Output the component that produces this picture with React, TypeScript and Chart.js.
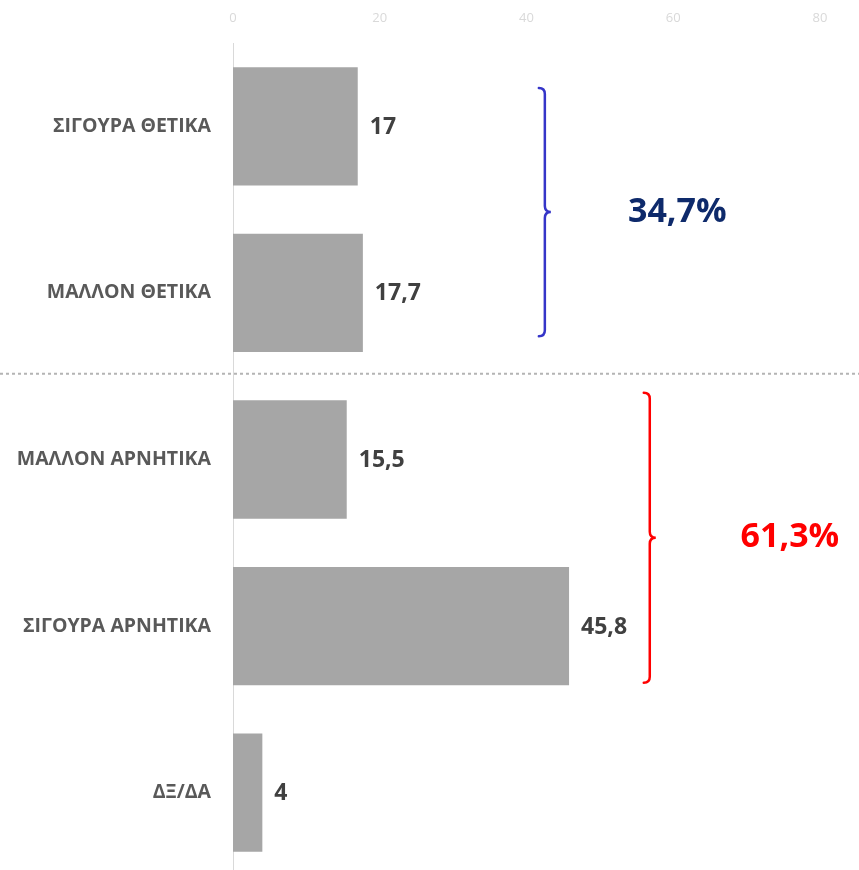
import React, { useEffect, useRef } from "react";
import { Chart, registerables } from "chart.js";

Chart.register(...registerables);

const categories = ["ΣΙΓΟΥΡΑ ΘΕΤΙΚΑ", "ΜΑΛΛΟΝ ΘΕΤΙΚΑ", "ΜΑΛΛΟΝ ΑΡΝΗΤΙΚΑ", "ΣΙΓΟΥΡΑ ΑΡΝΗΤΙΚΑ", "ΔΞ/ΔΑ"];
const values = [17, 17.7, 15.5, 45.8, 4];
const valueLabels = ["17", "17,7", "15,5", "45,8", "4"];
const xTicks = [0, 20, 40, 60, 80];
const groupLabels = ["34,7%", "61,3%"];
const groupFirst = [0, 2];
const groupLast = [1, 3];
const groupBraceValue = [42.5, 56.8];
const groupColors = ["#3535c8", "#ff0000"];
const groupTextColors = ["#0e2a6b", "#ff0000"];
const groupTextValue = [60.55, 75.9];

const FONT = "'Open Sans', 'Noto Sans', sans-serif";

const overlay = {
  id: "overlay",
  afterDatasetsDraw(chart: any) {
    const ctx = chart.ctx;
    const xs = chart.scales.x;
    const ys = chart.scales.y;
    const meta = chart.getDatasetMeta(0);
    ctx.save();
    ctx.font = `bold 23px ${FONT}`;
    ctx.fillStyle = "#404040";
    ctx.textAlign = "left";
    ctx.textBaseline = "middle";
    meta.data.forEach((bar: any, i: number) => {
      ctx.fillText(valueLabels[i], bar.x + 12, bar.y + 1);
    });
    const step = ys.getPixelForValue(1) - ys.getPixelForValue(0);
    const sepY = ys.getPixelForValue(1) + step * 0.485;
    ctx.strokeStyle = "#b4b4b4";
    ctx.lineWidth = 2;
    ctx.setLineDash([3, 3]);
    ctx.beginPath();
    ctx.moveTo(0, sepY);
    ctx.lineTo(chart.width, sepY);
    ctx.stroke();
    ctx.setLineDash([]);
    groupLabels.forEach((label, g) => {
      const top = ys.getPixelForValue(groupFirst[g]) - step * (g === 0 ? 0.23 : 0.4);
      const bot = ys.getPixelForValue(groupLast[g]) + step * (g === 0 ? 0.26 : 0.34);
      const mid = (top + bot) / 2;
      const x = xs.getPixelForValue(groupBraceValue[g]);
      const r = 6;
      ctx.strokeStyle = groupColors[g];
      ctx.lineWidth = 2.5;
      ctx.lineCap = "round";
      ctx.beginPath();
      ctx.moveTo(x - r, top);
      ctx.quadraticCurveTo(x, top, x, top + r);
      ctx.lineTo(x, mid - r);
      ctx.quadraticCurveTo(x, mid, x + r, mid);
      ctx.quadraticCurveTo(x, mid, x, mid + r);
      ctx.lineTo(x, bot - r);
      ctx.quadraticCurveTo(x, bot, x - r, bot);
      ctx.stroke();
      ctx.font = `bold 34px ${FONT}`;
      ctx.fillStyle = groupTextColors[g];
      ctx.textAlign = "center";
      ctx.textBaseline = "middle";
      ctx.fillText(label, xs.getPixelForValue(groupTextValue[g]), mid);
    });
    ctx.restore();
  },
};

export default function App() {
  const ref = useRef<HTMLCanvasElement>(null);
  useEffect(() => {
    document.body.style.margin = "0";
    const chart = new Chart(ref.current!, {
      type: "bar",
      data: {
        labels: categories,
        datasets: [
          {
            data: values,
            backgroundColor: "#a6a6a6",
            borderWidth: 0,
            categoryPercentage: 1,
            barPercentage: 0.71,
          },
        ],
      },
      options: {
        indexAxis: "y",
        animation: false,
        responsive: true,
        maintainAspectRatio: false,
        layout: { padding: { left: 0, right: 39, top: 0, bottom: 0 } },
        plugins: { legend: { display: false }, tooltip: { enabled: false } },
        scales: {
          x: {
            position: "top",
            min: 0,
            max: 80,
            afterBuildTicks: (s: any) => {
              s.ticks = xTicks.map((v) => ({ value: v }));
            },
            afterFit: (s: any) => {
              s.height = 43;
              s.paddingTop = 0;
              s.paddingBottom = 0;
            },
            grid: { display: false, drawTicks: false },
            border: { display: false },
            ticks: {
              color: "#d9d9d9",
              padding: 17,
              font: { family: FONT, size: 13 },
            },
          },
          y: {
            afterFit: (s: any) => {
              s.width = 233;
              s.paddingTop = 0;
              s.paddingBottom = 0;
            },
            grid: { display: false, drawTicks: false },
            border: { display: true, color: "#d9d9d9", width: 1 },
            ticks: {
              color: "#595959",
              padding: 22,
              font: { family: FONT, size: 19.5, weight: "bold" },
            },
          },
        },
      },
      plugins: [overlay],
    });
    return () => chart.destroy();
  }, []);
  return (
    <div style={{ width: 859, height: 870, overflow: "hidden", position: "relative" }}>
      <div style={{ position: "absolute", left: 0, top: 0, width: 859, height: 876 }}>
        <canvas ref={ref} />
      </div>
    </div>
  );
}
